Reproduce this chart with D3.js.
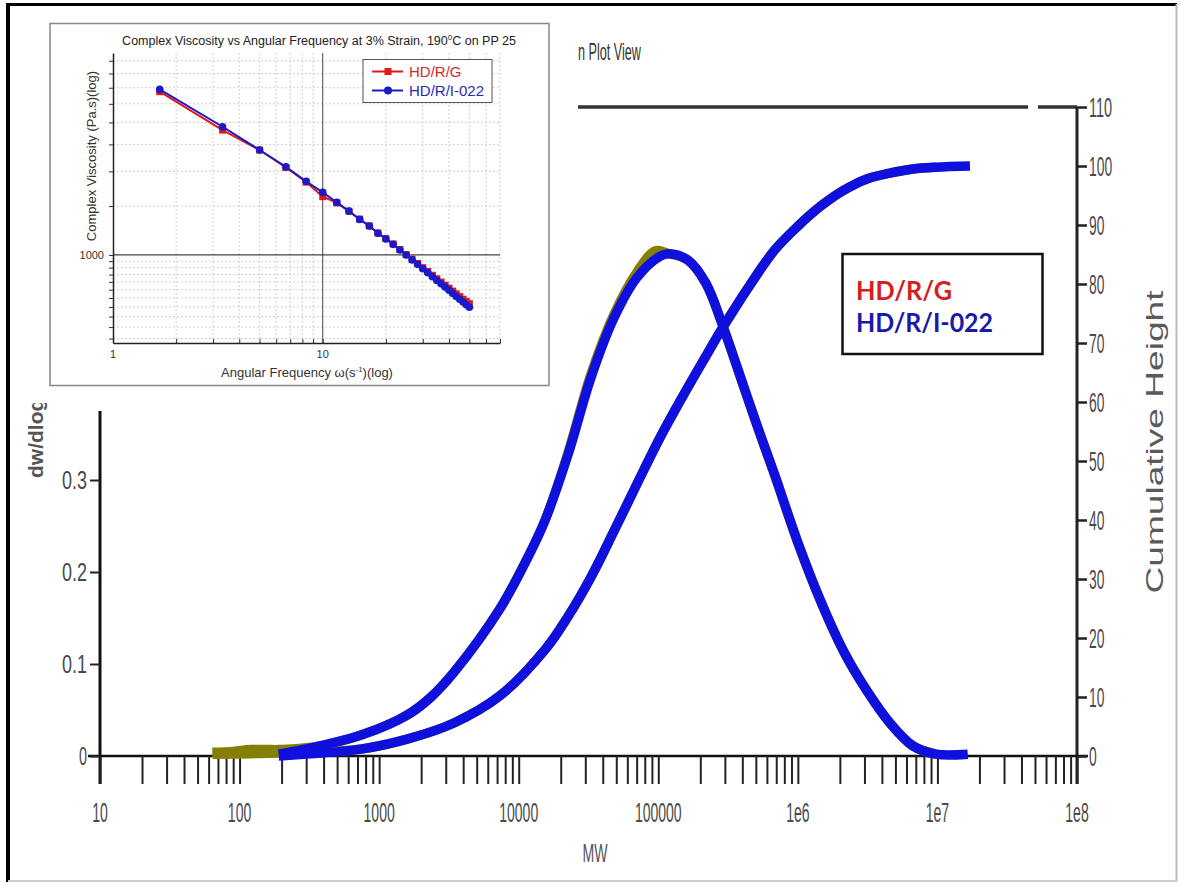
<!DOCTYPE html>
<html><head><meta charset="utf-8">
<script src="https://cdn.jsdelivr.net/npm/d3@7"></script>
<style>body{margin:0;background:#fff} svg{display:block}</style>
</head><body>
<svg id="c" width="1180" height="885"></svg>
<script>
// ---------- main chart data (MW distribution) ----------
const MW_BLUE = [191, 352, 753, 1608, 2350, 3435, 7330, 11450, 15420, 22500, 32900, 48100, 70300, 102600, 119000, 163000, 219000, 286000, 372000, 508000, 684000, 1000000, 1460000, 2140000, 3120000, 4560000, 6670000, 9750000, 16500000];
const DW_BLUE = [0.002, 0.010, 0.023, 0.045, 0.064, 0.091, 0.160, 0.214, 0.256, 0.327, 0.411, 0.476, 0.520, 0.543, 0.546, 0.539, 0.514, 0.470, 0.420, 0.360, 0.305, 0.232, 0.168, 0.113, 0.071, 0.036, 0.011, 0.002, 0.002];
const MW_OLIVE = [64, 90, 120, 160, 191, 352, 753, 1608, 2350, 3435, 7330, 11450, 15420, 22500, 32900, 48100, 70300, 95000, 119000, 163000, 219000, 286000, 372000, 508000, 684000, 1000000, 1460000, 2140000, 3120000, 4560000, 6670000, 9750000];
const DW_OLIVE = [0.004, 0.005, 0.007, 0.007, 0.007, 0.010, 0.023, 0.045, 0.064, 0.091, 0.160, 0.214, 0.256, 0.329, 0.415, 0.480, 0.526, 0.549, 0.546, 0.539, 0.514, 0.470, 0.420, 0.360, 0.305, 0.232, 0.168, 0.113, 0.071, 0.036, 0.011, 0.002];
const MW_CUM = [191, 753, 1608, 3435, 7330, 15420, 22500, 32900, 48100, 70300, 102600, 150000, 216000, 286000, 468000, 684000, 1000000, 1460000, 2140000, 3120000, 4560000, 6670000, 9750000, 17100000];
const CUM_BLUE = [0, 1.2, 2.9, 5.6, 10.2, 18.0, 23.6, 30.3, 38.1, 46.1, 53.9, 61.0, 67.5, 72.4, 80.3, 85.8, 89.8, 93.2, 95.9, 97.8, 98.8, 99.5, 99.8, 100];
const MW_CUM_OLIVE = [64, 120, 191, 753, 1608, 3435, 7330, 15420, 22500, 32900, 48100, 70300, 102600, 150000, 216000, 286000, 468000, 684000, 1000000, 1460000, 2140000, 3120000, 4560000, 6670000, 9750000];
const CUM_OLIVE = [0.3, 0.4, 0.5, 1.2, 2.9, 5.6, 10.2, 18.0, 23.6, 30.3, 38.1, 46.1, 53.9, 61.0, 67.5, 72.4, 80.3, 85.8, 89.8, 93.2, 95.9, 97.8, 98.8, 99.5, 99.8];

const X_TICKS = [1e1, 1e2, 1e3, 1e4, 1e5, 1e6, 1e7, 1e8];
const X_TICK_LABELS = ["10", "100", "1000", "10000", "100000", "1e6", "1e7", "1e8"];
const YL_TICKS = [0, 0.1, 0.2, 0.3];
const YL_TICK_LABELS = ["0", "0.1", "0.2", "0.3"];
const YR_TICKS = [0, 10, 20, 30, 40, 50, 60, 70, 80, 90, 100, 110];
const LEGEND_NAMES = ["HD/R/G", "HD/R/I-022"];

// ---------- inset data (complex viscosity) ----------
const OMEGA = [1.67, 3.33, 5, 6.67, 8.33, 10, 11.67, 13.33, 15, 16.67, 18.33, 20, 21.67, 23.33, 25, 26.67, 28.33, 30, 31.67, 33.33, 35, 36.67, 38.33, 40, 41.67, 43.33, 45, 46.67, 48.33, 50];
const ETA_RED  = [3870, 2815, 2387, 2065, 1830, 1621, 1540, 1437, 1345, 1272, 1200, 1145, 1095, 1046, 1003, 966, 932, 900, 872, 845, 821, 799, 778, 759, 741, 724, 708, 693, 680, 668];
const ETA_BLUE = [3945, 2894, 2387, 2078, 1841, 1680, 1546, 1439, 1343, 1271, 1197, 1142, 1092, 1042, 1000, 960, 925, 892, 863, 835, 810, 787, 766, 746, 727, 709, 693, 677, 662, 648];
const INSET_Y_TICKS = [500, 550, 600, 650, 700, 750, 800, 850, 900, 950, 1000, 1500, 2000, 2500, 3000, 3500, 4000, 4500, 5000];
const INSET_X_LABELS = [1, 10];
const INSET_Y_LABELS = [1000];

const svg = d3.select("#c");
const FONT = "'Liberation Sans', Arial, sans-serif";
const LBL = "#4a4a4a";
const BLUE = "#1010de", OLIVE = "#857f05";

// outer frame
svg.append("line").attr("x1", 8).attr("x2", 8).attr("y1", 3).attr("y2", 882).attr("stroke", "#000").attr("stroke-width", 4);
svg.append("line").attr("x1", 8).attr("x2", 1177).attr("y1", 4.5).attr("y2", 4.5).attr("stroke", "#000").attr("stroke-width", 3);
svg.append("line").attr("x1", 1176.5).attr("x2", 1176.5).attr("y1", 4).attr("y2", 882).attr("stroke", "#bbb").attr("stroke-width", 2);
svg.append("line").attr("x1", 8).attr("x2", 1177).attr("y1", 881).attr("y2", 881).attr("stroke", "#ccc").attr("stroke-width", 2);

// scales
const x = d3.scaleLog().domain([10, 1e8]).range([100, 1077]);
const yL = d3.scaleLinear().domain([0, 0.3]).range([756, 480]);
const yR = d3.scaleLinear().domain([0, 110]).range([756, 107]);

const g = svg.append("g");

// top frame line & right axis line
g.append("line").attr("x1", 578).attr("x2", 1028).attr("y1", yR(110)).attr("y2", yR(110)).attr("stroke", "#333").attr("stroke-width", 3.5);
g.append("line").attr("x1", 1038).attr("x2", 1077).attr("y1", yR(110)).attr("y2", yR(110)).attr("stroke", "#333").attr("stroke-width", 3.5);
g.append("line").attr("x1", 1077).attr("x2", 1077).attr("y1", yR(110)).attr("y2", 784).attr("stroke", "#222").attr("stroke-width", 3);
// left axis line
g.append("line").attr("x1", 100).attr("x2", 100).attr("y1", yL(0.375)).attr("y2", 784).attr("stroke", "#111").attr("stroke-width", 3);
// x axis line
g.append("line").attr("x1", 88).attr("x2", 1088).attr("y1", yL(0)).attr("y2", yL(0)).attr("stroke", "#111").attr("stroke-width", 2.5);

// x ticks
const xAx = g.append("g").attr("transform", `translate(0,${yL(0)})`)
  .call(d3.axisBottom(x).tickValues(x.ticks()).tickSize(28).tickFormat(""));
xAx.select(".domain").remove();
xAx.selectAll(".tick line").attr("stroke", "#222").attr("stroke-width", 2);
g.selectAll(".xlbl").data(X_TICKS).join("text").attr("class", "xlbl")
  .attr("x", d => x(d)).attr("y", 822).attr("text-anchor", "middle")
  .attr("font-family", FONT).attr("font-size", 27).attr("fill", LBL)
  .attr("textLength", (d, i) => X_TICK_LABELS[i].length * 7.8).attr("lengthAdjust", "spacingAndGlyphs")
  .text((d, i) => X_TICK_LABELS[i]);

// left ticks
const yAx = g.append("g").attr("transform", "translate(100,0)")
  .call(d3.axisLeft(yL).tickValues(YL_TICKS).tickSize(10).tickFormat(""));
yAx.select(".domain").remove();
yAx.selectAll(".tick line").attr("stroke", "#222").attr("stroke-width", 2);
g.selectAll(".ylbl").data(YL_TICKS).join("text").attr("class", "ylbl")
  .attr("x", 87).attr("y", d => yL(d) + 9).attr("text-anchor", "end")
  .attr("font-family", FONT).attr("font-size", 26).attr("fill", LBL)
  .attr("textLength", (d, i) => YL_TICK_LABELS[i].length === 1 ? 8 : 25).attr("lengthAdjust", "spacingAndGlyphs")
  .text((d, i) => YL_TICK_LABELS[i]);

// right ticks
const rAx = g.append("g").attr("transform", "translate(1077,0)")
  .call(d3.axisRight(yR).tickValues(YR_TICKS).tickSize(10).tickFormat(""));
rAx.select(".domain").remove();
rAx.selectAll(".tick line").attr("stroke", "#222").attr("stroke-width", 2.5);
g.selectAll(".rlbl").data(YR_TICKS).join("text").attr("class", "rlbl")
  .attr("x", 1089).attr("y", d => yR(d) + 10).attr("text-anchor", "start")
  .attr("font-family", FONT).attr("font-size", 28).attr("fill", LBL)
  .attr("textLength", d => String(d).length * 7.7).attr("lengthAdjust", "spacingAndGlyphs")
  .text(d => d);

// axis titles
g.append("text").attr("x", 595).attr("y", 862).attr("text-anchor", "middle")
  .attr("font-family", FONT).attr("font-size", 26).attr("fill", "#555")
  .attr("textLength", 25).attr("lengthAdjust", "spacingAndGlyphs").text("MW");
g.append("text").attr("transform", "translate(1163,442) rotate(-90)").attr("text-anchor", "middle")
  .attr("font-family", FONT).attr("font-size", 24).attr("fill", "#5a5a5a")
  .attr("textLength", 303).attr("lengthAdjust", "spacingAndGlyphs").text("Cumulative Height");
g.append("text").attr("transform", "translate(43,478) rotate(-90)").attr("text-anchor", "start")
  .attr("font-family", FONT).attr("font-size", 21).attr("font-weight", "bold").attr("fill", "#555")
  .text("dw/dlogM");
g.append("text").attr("x", 578).attr("y", 60).attr("font-family", FONT).attr("font-size", 24).attr("fill", "#333")
  .attr("textLength", 63).attr("lengthAdjust", "spacingAndGlyphs").text("n Plot View");

// curves
const lineL = d3.line().x(d => x(d[0])).y(d => yL(d[1])).curve(d3.curveCatmullRom.alpha(0.5));
const lineR = d3.line().x(d => x(d[0])).y(d => yR(d[1])).curve(d3.curveCatmullRom.alpha(0.5));
const zip = (a, b) => a.map((v, i) => [v, b[i]]);
const curveStyle = (sel, col) => sel.attr("fill", "none").attr("stroke", col).attr("stroke-width", 9.5)
  .attr("stroke-linejoin", "round").attr("stroke-linecap", "butt");
curveStyle(g.append("path").attr("d", lineL(zip(MW_OLIVE, DW_OLIVE))), OLIVE);
curveStyle(g.append("path").attr("d", lineR(zip(MW_CUM_OLIVE, CUM_OLIVE))), OLIVE);
curveStyle(g.append("path").attr("d", lineL(zip(MW_BLUE, DW_BLUE))), BLUE);
curveStyle(g.append("path").attr("d", lineR(zip(MW_CUM, CUM_BLUE))), BLUE);

// main legend box
g.append("rect").attr("x", 842.5).attr("y", 254).attr("width", 200).attr("height", 100)
  .attr("fill", "#fff").attr("stroke", "#111").attr("stroke-width", 2.5);
const LEG_COLORS = ["#d42020", "#1a1aa8"];
const LEG_LEN = [96, 137];
g.selectAll(".leg").data(LEGEND_NAMES).join("text").attr("class", "leg")
  .attr("x", 856).attr("y", (d, i) => 300 + i * 32)
  .attr("font-family", "Lato, 'Open Sans', sans-serif").attr("font-weight", "bold").attr("font-size", 27)
  .attr("fill", (d, i) => LEG_COLORS[i])
  .attr("textLength", (d, i) => LEG_LEN[i]).attr("lengthAdjust", "spacingAndGlyphs")
  .text(d => d);

// ---------- inset ----------
const ins = svg.append("g");
ins.append("rect").attr("x", 11).attr("y", 8).attr("width", 566).attr("height", 395).attr("fill", "#fff");
ins.append("rect").attr("x", 50).attr("y", 23.5).attr("width", 499).attr("height", 362).attr("fill", "#fff")
  .attr("stroke", "#888").attr("stroke-width", 1.5);

const ix = d3.scaleLog().domain([1, 70]).range([113, 500]);
const iy = d3.scaleLog().domain([482, 5334]).range([343, 53]);
const IF = "'Liberation Sans', Arial, sans-serif";

// grid
ins.append("g").selectAll("line").data(ix.ticks().filter(d => d !== 1 && d !== 10)).join("line")
  .attr("x1", d => ix(d)).attr("x2", d => ix(d)).attr("y1", 53).attr("y2", 343)
  .attr("stroke", "#cfcfcf").attr("stroke-width", 1).attr("stroke-dasharray", "2,2");
ins.append("g").selectAll("line").data(INSET_Y_TICKS.filter(d => d !== 1000)).join("line")
  .attr("x1", 113).attr("x2", 500).attr("y1", d => iy(d)).attr("y2", d => iy(d))
  .attr("stroke", "#cfcfcf").attr("stroke-width", 1).attr("stroke-dasharray", "2,2");
ins.append("line").attr("x1", ix(10)).attr("x2", ix(10)).attr("y1", 53).attr("y2", 343).attr("stroke", "#444").attr("stroke-width", 1);
ins.append("line").attr("x1", 113).attr("x2", 500).attr("y1", iy(1000)).attr("y2", iy(1000)).attr("stroke", "#444").attr("stroke-width", 1.3);

// axes
const ixAx = ins.append("g").attr("transform", "translate(0,343)")
  .call(d3.axisBottom(ix).tickValues(ix.ticks()).tickSizeInner(-4).tickSizeOuter(0).tickFormat(""));
ixAx.select(".domain").attr("stroke", "#222").attr("stroke-width", 1.5);
ixAx.selectAll(".tick line").attr("stroke", "#333");
const iyAx = ins.append("g").attr("transform", "translate(113,0)")
  .call(d3.axisLeft(iy).tickValues(INSET_Y_TICKS).tickSizeInner(4).tickSizeOuter(0).tickFormat(""));
iyAx.select(".domain").attr("stroke", "#222").attr("stroke-width", 1.5);
iyAx.selectAll(".tick line").attr("stroke", "#333");
ins.selectAll(".ixl").data(INSET_X_LABELS).join("text").attr("class", "ixl")
  .attr("x", d => ix(d)).attr("y", 358).attr("text-anchor", "middle")
  .attr("font-family", IF).attr("font-size", 11).attr("fill", "#333").text(d => d);
ins.selectAll(".iyl").data(INSET_Y_LABELS).join("text").attr("class", "iyl")
  .attr("x", 104).attr("y", d => iy(d) + 4).attr("text-anchor", "end")
  .attr("font-family", IF).attr("font-size", 11).attr("fill", "#333").text(d => d);

// titles
const tt = ins.append("text").attr("x", 319).attr("y", 45).attr("text-anchor", "middle")
  .attr("font-family", IF).attr("font-size", 12.5).attr("fill", "#222");
tt.append("tspan").text("Complex Viscosity vs Angular Frequency at 3% Strain, 190");
tt.append("tspan").attr("dy", -5).attr("font-size", 8).text("0");
tt.append("tspan").attr("dy", 5).text("C on PP 25");
ins.append("text").attr("transform", "translate(96,156) rotate(-90)").attr("text-anchor", "middle")
  .attr("font-family", IF).attr("font-size", 13).attr("fill", "#333").text("Complex Viscosity (Pa.s)(log)");
const xt = ins.append("text").attr("x", 307).attr("y", 377).attr("text-anchor", "middle")
  .attr("font-family", IF).attr("font-size", 13).attr("fill", "#333");
xt.append("tspan").text("Angular Frequency ω(s");
xt.append("tspan").attr("dy", -5).attr("font-size", 8).text("-1");
xt.append("tspan").attr("dy", 5).text(")(log)");

// series
const iline = d3.line().x(d => ix(d[0])).y(d => iy(d[1]));
const RED = "#e01818", IBLUE = "#1a1ac8";
ins.append("path").attr("d", iline(zip(OMEGA, ETA_RED))).attr("fill", "none").attr("stroke", RED).attr("stroke-width", 2);
ins.append("g").selectAll("rect").data(zip(OMEGA, ETA_RED)).join("rect")
  .attr("x", d => ix(d[0]) - 3.5).attr("y", d => iy(d[1]) - 3.5).attr("width", 7).attr("height", 7).attr("fill", RED);
ins.append("path").attr("d", iline(zip(OMEGA, ETA_BLUE))).attr("fill", "none").attr("stroke", IBLUE).attr("stroke-width", 2);
ins.append("g").selectAll("circle").data(zip(OMEGA, ETA_BLUE)).join("circle")
  .attr("cx", d => ix(d[0])).attr("cy", d => iy(d[1])).attr("r", 3.8).attr("fill", IBLUE);

// inset legend
ins.append("rect").attr("x", 363).attr("y", 59.5).attr("width", 129).attr("height", 43)
  .attr("fill", "#fff").attr("stroke", "#555").attr("stroke-width", 1);
const ILC = [RED, IBLUE], ILT = ["#d42a2a", "#2a2ab0"];
LEGEND_NAMES.forEach((nm, i) => {
  const yy = 71.5 + i * 19;
  ins.append("line").attr("x1", 372).attr("x2", 403).attr("y1", yy).attr("y2", yy).attr("stroke", ILC[i]).attr("stroke-width", 2);
  if (i === 0) ins.append("rect").attr("x", 384.5).attr("y", yy - 3.5).attr("width", 7).attr("height", 7).attr("fill", ILC[i]);
  else ins.append("circle").attr("cx", 388).attr("cy", yy).attr("r", 4).attr("fill", ILC[i]);
  ins.append("text").attr("x", 409).attr("y", yy + 5.5).attr("font-family", IF).attr("font-size", 15)
    .attr("fill", ILT[i]).text(nm);
});
</script>
</body></html>
